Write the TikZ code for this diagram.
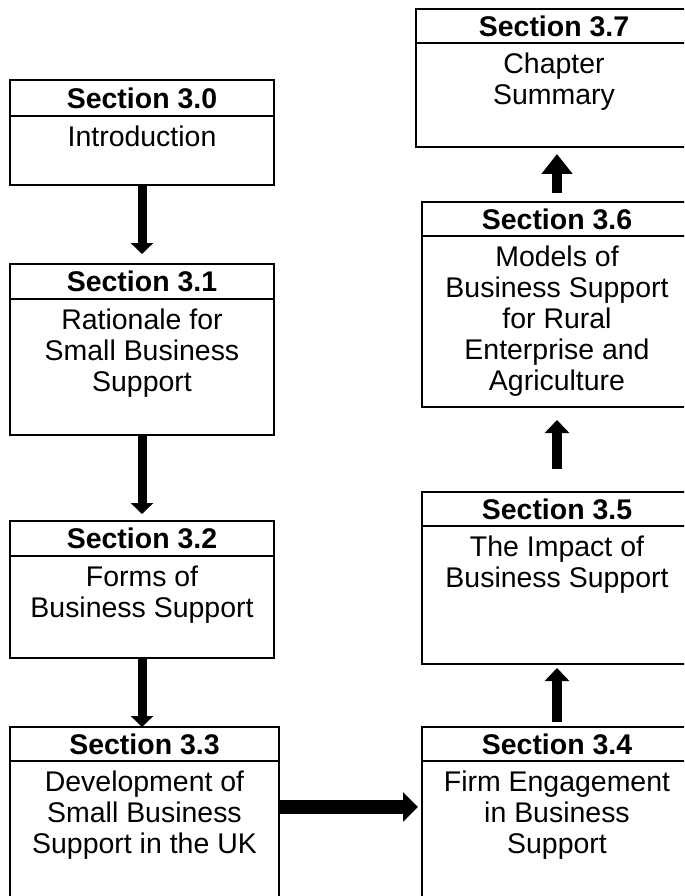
\documentclass[tikz,border=0pt]{standalone}
\usepackage{fontspec}
\setmainfont{Liberation Sans}
\usetikzlibrary{arrows.meta,fit}
\begin{document}
\begin{tikzpicture}[x=0.02cm,y=-0.02cm,
    secbox/.style={draw,line width=0.028cm,inner sep=0pt,outer sep=0pt},
    sechead/.style={inner sep=0pt,font=\bfseries\fontsize{16.2pt}{17.6pt}\selectfont},
    secbody/.style={anchor=north,align=center,inner sep=0pt,font=\fontsize{16.2pt}{17.6pt}\selectfont},
    secline/.style={line width=0.028cm},
    downarr/.style={line width=0.18cm,-{Triangle[width=0.44cm,length=0.22cm]}},
    sidearr/.style={line width=0.28cm,-{Triangle[width=0.58cm,length=0.30cm]}},
    uparr/.style={line width=0.2cm,-{Triangle[width=0.48cm,length=0.26cm]}}]
    \useasboundingbox (0,0) rectangle (684,896);
    \clip (0,0) rectangle (684,896);
    % left column
    \node[secbox,fit={(10,80) (274,185)}] (s30) {};
    \draw[secline] (10,116) -- (274,116);
    \node[sechead] (t30) at (142,98) {Section 3.0};
    \node[secbody] (b30) at (142,126) {Introduction};
    \node[secbox,fit={(10,264) (274,435)}] (s31) {};
    \draw[secline] (10,299) -- (274,299);
    \node[sechead] (t31) at (142,281.5) {Section 3.1};
    \node[secbody] (b31) at (142,309) {Rationale for\\Small Business\\Support};
    \node[secbox,fit={(10,521) (274,658)}] (s32) {};
    \draw[secline] (10,556) -- (274,556);
    \node[sechead] (t32) at (142,538.5) {Section 3.2};
    \node[secbody] (b32) at (142,566) {Forms of\\Business Support};
    \node[secbox,fit={(10,727) (279,900)}] (s33) {};
    \draw[secline] (10,761) -- (279,761);
    \node[sechead] (t33) at (144.5,744) {Section 3.3};
    \node[secbody] (b33) at (144.5,771) {Development of\\Small Business\\Support in the UK};
    % right column
    \node[secbox,fit={(422,727) (692,900)}] (s34) {};
    \draw[secline] (422,761) -- (692,761);
    \node[sechead] (t34) at (557,744) {Section 3.4};
    \node[secbody] (b34) at (557,771) {Firm Engagement\\in Business\\Support};
    \node[secbox,fit={(422,492) (692,664)}] (s35) {};
    \draw[secline] (422,526) -- (692,526);
    \node[sechead] (t35) at (557,509) {Section 3.5};
    \node[secbody] (b35) at (557,536) {The Impact of\\Business Support};
    \node[secbox,fit={(422,202) (692,407)}] (s36) {};
    \draw[secline] (422,236) -- (692,236);
    \node[sechead] (t36) at (557,219) {Section 3.6};
    \node[secbody] (b36) at (557,246) {Models of\\Business Support\\for Rural\\Enterprise and\\Agriculture};
    \node[secbox,fit={(416,9) (692,147)}] (s37) {};
    \draw[secline] (416,43) -- (692,43);
    \node[sechead] (t37) at (554,26) {Section 3.7};
    \node[secbody] (b37) at (554,53) {Chapter\\Summary};
    % arrows
    \draw[downarr,shorten >=0.2cm] (s30.south) -- (s31.north);
    \draw[downarr,shorten >=0.14cm] (s31.south) -- (s32.north);
    \draw[downarr] (s32.south) -- (s32.south |- s33.north);
    \draw[sidearr,shorten >=0.08cm] ([yshift=0.13cm]s33.east) -- ([yshift=0.13cm]s34.west);
    \draw[uparr,shorten <=0.1cm,shorten >=0.08cm] (s34.north) -- (s35.south);
    \draw[uparr,shorten <=0.46cm,shorten >=0.26cm] (s35.north) -- (s36.south);
    \draw[uparr,-{Triangle[width=0.6cm,length=0.4cm]},shorten <=0.18cm,shorten >=0.14cm] (s36.north) -- (s36.north |- s37.south);
\end{tikzpicture}
\end{document}
